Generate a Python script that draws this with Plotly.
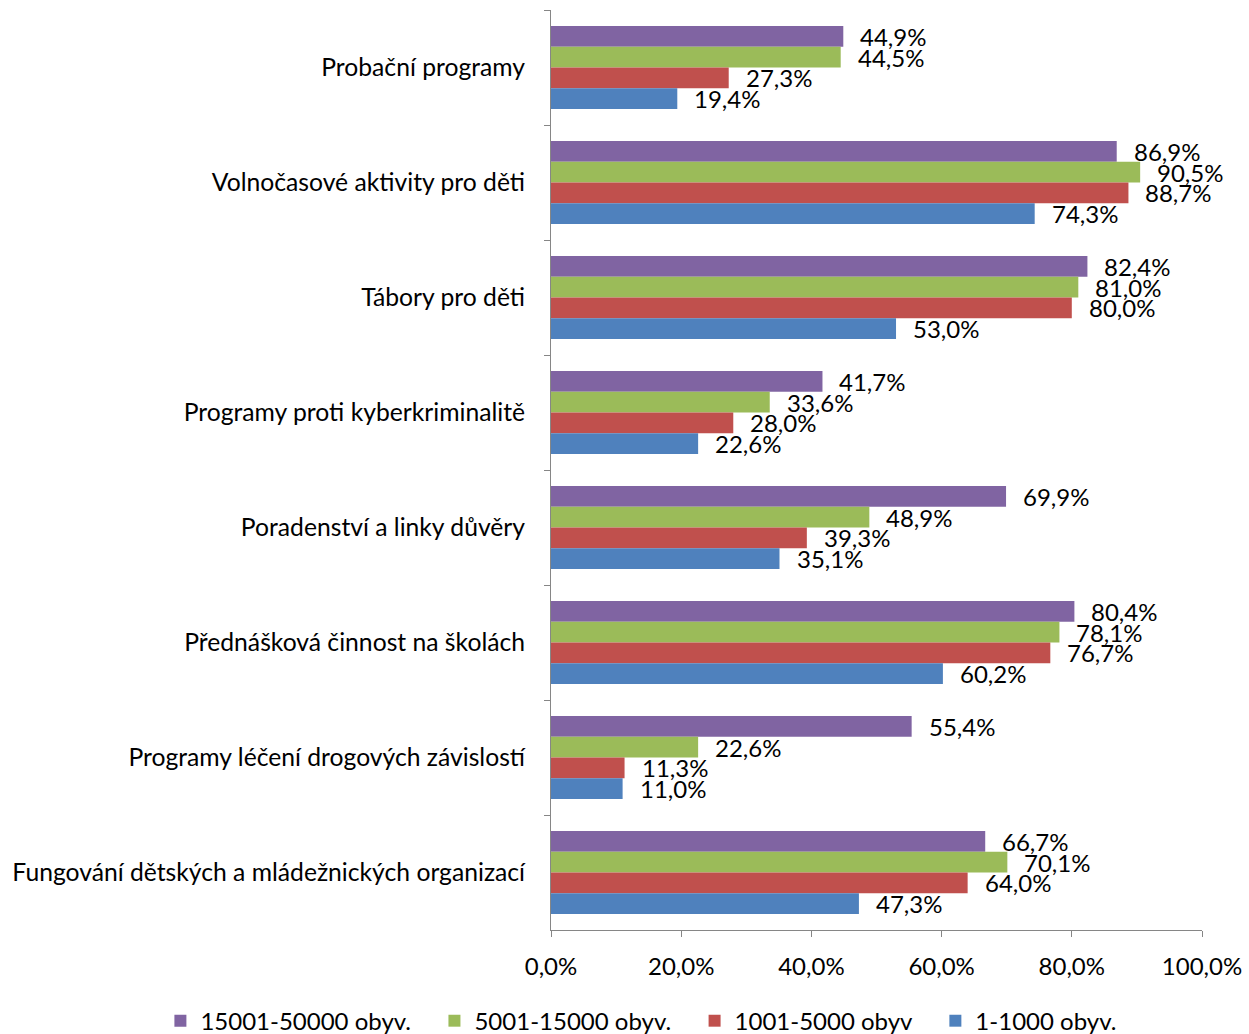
import plotly.graph_objects as go

categories = [
    "Probační programy",
    "Volnočasové aktivity pro děti",
    "Tábory pro děti",
    "Programy proti kyberkriminalitě",
    "Poradenství a linky důvěry",
    "Přednášková činnost na školách",
    "Programy léčení drogových závislostí",
    "Fungování dětských a mládežnických organizací",
]

series_names = ["15001-50000 obyv.", "5001-15000 obyv.", "1001-5000 obyv", "1-1000 obyv."]
series_colors = ["#8064A2", "#9BBB59", "#C0504D", "#4F81BD"]

v_15001_50000 = [44.9, 86.9, 82.4, 41.7, 69.9, 80.4, 55.4, 66.7]
v_5001_15000 = [44.5, 90.5, 81.0, 33.6, 48.9, 78.1, 22.6, 70.1]
v_1001_5000 = [27.3, 88.7, 80.0, 28.0, 39.3, 76.7, 11.3, 64.0]
v_1_1000 = [19.4, 74.3, 53.0, 22.6, 35.1, 60.2, 11.0, 47.3]

series_values = [v_15001_50000, v_5001_15000, v_1001_5000, v_1_1000]

x_ticks = [0, 20, 40, 60, 80, 100]


def pct(v):
    return f"{v:.1f}".replace(".", ",") + "%"


FONT = "Lato"
BARGAP = 0.28
NBSP = "\u00a0"

fig = go.Figure()
for name, color, vals in zip(series_names, series_colors, series_values):
    fig.add_trace(go.Bar(
        name=name + NBSP * 3,
        y=categories,
        x=vals,
        orientation="h",
        marker=dict(color=color, line=dict(width=0)),
    ))

# value labels placed just right of each bar end
n = len(series_values)
slot = (1 - BARGAP) / n
annotations = []
for k, vals in enumerate(series_values):
    offset = -(1 - BARGAP) / 2 + slot * (k + 0.5)
    for i, v in enumerate(vals):
        annotations.append(dict(
            x=v, y=i + offset, xref="x", yref="y",
            text=pct(v),
            showarrow=False, xanchor="left", yanchor="middle",
            xshift=15, yshift=0,
            font=dict(family=FONT, size=24, color="#000000"),
        ))

fig.update_layout(
    barmode="group",
    bargap=BARGAP,
    bargroupgap=0,
    width=1249,
    height=1034,
    margin=dict(l=551, r=47, t=10, b=104, autoexpand=False),
    paper_bgcolor="white",
    plot_bgcolor="white",
    font=dict(family=FONT, size=24, color="#000000"),
    annotations=annotations,
    showlegend=True,
    legend=dict(
        orientation="h",
        x=-0.6, xanchor="left",
        y=-0.099, yanchor="middle",
        font=dict(family=FONT, size=24, color="#000000"),
        itemwidth=30,
        traceorder="normal",
        bgcolor="rgba(0,0,0,0)",
    ),
    xaxis=dict(
        range=[0, 100],
        tickvals=x_ticks,
        ticktext=[pct(t) for t in x_ticks],
        showgrid=False,
        zeroline=False,
        showline=True,
        linecolor="#868686",
        linewidth=1,
        ticks="outside",
        ticklen=6,
        tickcolor="#868686",
        ticklabelstandoff=9,
        tickfont=dict(family=FONT, size=24),
    ),
    yaxis=dict(
        autorange="reversed",
        type="category",
        showgrid=False,
        zeroline=False,
        showline=True,
        linecolor="#868686",
        linewidth=1,
        ticks="outside",
        ticklen=6,
        tickcolor="#868686",
        tickson="boundaries",
        ticklabelstandoff=20,
        tickfont=dict(family=FONT, size=24.7),
    ),
)

fig.write_html("out.html")
